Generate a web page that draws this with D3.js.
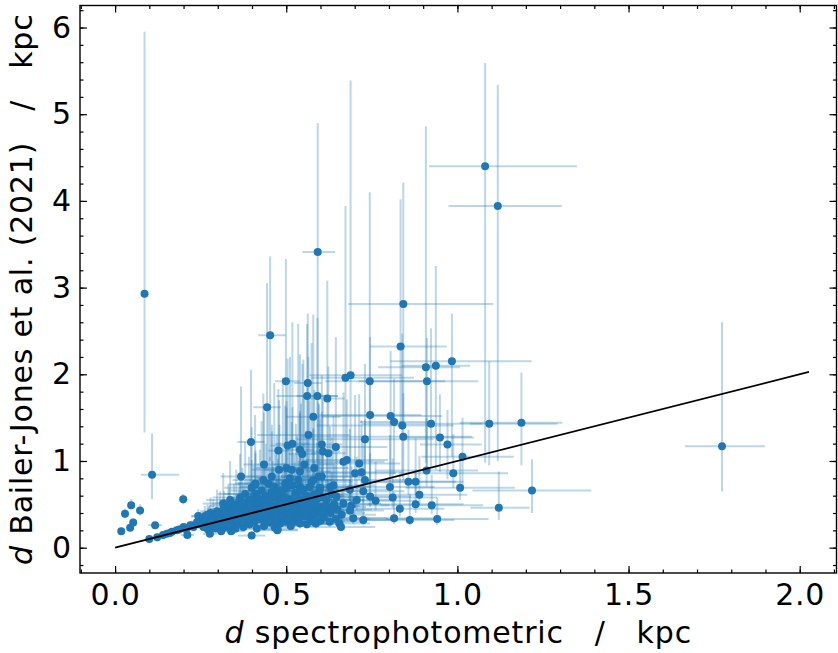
<!DOCTYPE html>
<html>
<head>
<meta charset="utf-8">
<script src="https://cdn.jsdelivr.net/npm/d3@7"></script>
<style>
  body { margin: 0; background: white; }
  text { font-family: "DejaVu Sans", sans-serif; }
</style>
</head>
<body>
<svg id="scatter"></svg>
<script>
// [d spectrophotometric, d Bailer-Jones, err spec, err BJ low, err BJ high]  (kpc)
const nearStars = [
    [0.018, 0.19, 0.01, 0.03, 0.04], [0.029, 0.39, 0.01, 0.05, 0.06], [0.044, 0.23, 0.01, 0.03, 0.04],
    [0.047, 0.49, 0.01, 0.05, 0.07], [0.053, 0.29, 0.01, 0.04, 0.05], [0.073, 0.43, 0.01, 0.06, 0.07],
    [0.100, 0.10, 0.01, 0.02, 0.02], [0.117, 0.26, 0.02, 0.03, 0.04], [0.123, 0.12, 0.01, 0.02, 0.02],
    [0.140, 0.145, 0.01, 0.02, 0.02], [0.151, 0.16, 0.01, 0.02, 0.02], [0.160, 0.17, 0.01, 0.02, 0.03],
    [0.166, 0.185, 0.01, 0.02, 0.03], [0.180, 0.20, 0.01, 0.02, 0.03], [0.187, 0.21, 0.02, 0.03, 0.03],
    [0.200, 0.24, 0.02, 0.03, 0.04], [0.206, 0.215, 0.02, 0.03, 0.03], [0.209, 0.22, 0.02, 0.03, 0.04],
    [0.211, 0.146, 0.02, 0.02, 0.03], [0.220, 0.26, 0.02, 0.03, 0.05], [0.229, 0.24, 0.02, 0.03, 0.05],
    [0.239, 0.28, 0.02, 0.04, 0.06], [0.240, 0.295, 0.02, 0.04, 0.06], [0.243, 0.365, 0.02, 0.05, 0.08],
    [0.245, 0.27, 0.02, 0.04, 0.06]
];

const coreStars = [
    [0.252, 0.30, 0.03, 0.05, 0.08], [0.258, 0.24, 0.02, 0.04, 0.06], [0.258, 0.32, 0.03, 0.05, 0.10],
    [0.262, 0.36, 0.04, 0.06, 0.12], [0.263, 0.32, 0.03, 0.05, 0.08], [0.268, 0.28, 0.03, 0.05, 0.08],
    [0.271, 0.21, 0.02, 0.04, 0.05], [0.275, 0.33, 0.04, 0.06, 0.15], [0.277, 0.16, 0.02, 0.03, 0.04],
    [0.279, 0.40, 0.04, 0.08, 0.18], [0.283, 0.26, 0.03, 0.05, 0.08], [0.287, 0.36, 0.05, 0.07, 0.20],
    [0.287, 0.24, 0.03, 0.04, 0.06], [0.291, 0.30, 0.04, 0.06, 0.12], [0.294, 0.22, 0.03, 0.04, 0.06],
    [0.298, 0.42, 0.05, 0.08, 0.25], [0.300, 0.34, 0.04, 0.06, 0.12], [0.303, 0.27, 0.04, 0.05, 0.10],
    [0.307, 0.40, 0.05, 0.08, 0.25], [0.310, 0.19, 0.03, 0.04, 0.06], [0.312, 0.33, 0.05, 0.06, 0.15],
    [0.316, 0.51, 0.06, 0.10, 0.35], [0.318, 0.45, 0.05, 0.09, 0.20], [0.322, 0.24, 0.04, 0.05, 0.08],
    [0.325, 0.37, 0.06, 0.07, 0.15], [0.328, 0.30, 0.05, 0.06, 0.10], [0.331, 0.42, 0.06, 0.08, 0.30],
    [0.334, 0.48, 0.06, 0.09, 0.20], [0.336, 0.55, 0.07, 0.10, 0.45], [0.339, 0.19, 0.04, 0.04, 0.06],
    [0.341, 0.20, 0.04, 0.04, 0.08], [0.341, 0.26, 0.05, 0.05, 0.10], [0.344, 0.35, 0.06, 0.07, 0.20],
    [0.347, 0.44, 0.07, 0.09, 0.30], [0.349, 0.30, 0.05, 0.06, 0.12], [0.352, 0.22, 0.05, 0.05, 0.08],
    [0.354, 0.50, 0.07, 0.10, 0.40], [0.357, 0.39, 0.06, 0.08, 0.20], [0.360, 0.30, 0.06, 0.06, 0.12],
    [0.363, 0.45, 0.07, 0.09, 0.30], [0.365, 0.58, 0.08, 0.12, 0.50], [0.365, 0.28, 0.05, 0.06, 0.10],
    [0.368, 0.82, 0.06, 0.20, 1.04], [0.369, 0.35, 0.06, 0.07, 0.18], [0.372, 0.52, 0.08, 0.10, 0.40],
    [0.375, 0.24, 0.05, 0.05, 0.08], [0.377, 0.42, 0.07, 0.08, 0.25], [0.380, 0.62, 0.08, 0.12, 0.60],
    [0.383, 0.32, 0.06, 0.06, 0.15], [0.386, 0.47, 0.08, 0.09, 0.35], [0.388, 0.38, 0.07, 0.08, 0.20],
    [0.391, 0.55, 0.08, 0.11, 0.50], [0.393, 0.27, 0.06, 0.05, 0.10], [0.396, 0.44, 0.07, 0.09, 0.30],
    [0.399, 0.14, 0.04, 0.03, 0.05], [0.399, 0.69, 0.08, 0.14, 0.70], [0.399, 0.56, 0.07, 0.11, 0.45],
    [0.402, 0.35, 0.07, 0.07, 0.20], [0.405, 0.50, 0.08, 0.10, 0.45], [0.407, 0.30, 0.06, 0.06, 0.15],
    [0.409, 0.73, 0.08, 0.15, 0.80], [0.410, 0.62, 0.09, 0.12, 0.50], [0.410, 0.74, 0.06, 0.15, 0.35],
    [0.412, 0.41, 0.07, 0.08, 0.30], [0.414, 0.22, 0.05, 0.05, 0.08], [0.414, 0.40, 0.06, 0.08, 0.20],
    [0.417, 0.57, 0.08, 0.11, 0.40], [0.420, 0.46, 0.08, 0.09, 0.35], [0.423, 0.53, 0.09, 0.10, 0.60],
    [0.425, 0.33, 0.07, 0.07, 0.18], [0.428, 0.66, 0.09, 0.13, 0.80], [0.430, 0.39, 0.07, 0.08, 0.25],
    [0.433, 0.78, 0.09, 0.16, 1.00], [0.435, 0.96, 0.06, 0.25, 0.60], [0.435, 0.25, 0.06, 0.05, 0.10],
    [0.437, 0.50, 0.08, 0.10, 0.45], [0.440, 0.60, 0.09, 0.12, 0.60], [0.443, 0.47, 0.08, 0.09, 0.35],
    [0.446, 0.35, 0.07, 0.07, 0.20], [0.448, 0.74, 0.09, 0.15, 0.90], [0.450, 0.42, 0.08, 0.08, 0.30],
    [0.452, 0.55, 0.09, 0.11, 0.50], [0.455, 0.29, 0.07, 0.06, 0.15], [0.458, 0.64, 0.10, 0.13, 0.70],
    [0.458, 0.82, 0.08, 0.18, 0.60], [0.460, 0.37, 0.08, 0.07, 0.25], [0.462, 0.48, 0.09, 0.10, 0.45],
    [0.465, 0.70, 0.10, 0.14, 1.20], [0.467, 0.23, 0.06, 0.05, 0.10], [0.470, 0.58, 0.09, 0.12, 0.55],
    [0.472, 0.44, 0.08, 0.09, 0.35], [0.472, 0.65, 0.09, 0.13, 0.65], [0.474, 0.20, 0.06, 0.04, 0.08],
    [0.475, 0.21, 0.06, 0.04, 0.08], [0.476, 0.52, 0.09, 0.10, 0.50], [0.478, 0.33, 0.08, 0.07, 0.20],
    [0.479, 0.90, 0.08, 0.20, 0.80], [0.480, 0.62, 0.10, 0.12, 0.80], [0.482, 0.28, 0.07, 0.06, 0.15],
    [0.485, 0.41, 0.09, 0.08, 0.35], [0.487, 0.55, 0.10, 0.11, 0.60], [0.490, 0.66, 0.10, 0.13, 1.30],
    [0.492, 0.36, 0.08, 0.07, 0.25], [0.495, 0.48, 0.09, 0.10, 0.45], [0.497, 0.74, 0.10, 0.15, 0.90],
    [0.499, 0.30, 0.08, 0.06, 0.18], [0.501, 0.92, 0.09, 0.20, 0.70], [0.501, 0.69, 0.10, 0.14, 1.00],
    [0.503, 0.42, 0.09, 0.08, 0.35], [0.506, 0.33, 0.08, 0.07, 0.20], [0.508, 0.56, 0.10, 0.11, 0.65],
    [0.511, 0.80, 0.10, 0.16, 1.40], [0.513, 0.25, 0.07, 0.05, 0.10], [0.515, 0.47, 0.09, 0.09, 0.45],
    [0.516, 0.90, 0.08, 0.20, 0.55], [0.518, 0.72, 0.11, 0.14, 0.90], [0.520, 0.38, 0.09, 0.08, 0.30],
    [0.523, 0.52, 0.10, 0.10, 0.55], [0.525, 0.30, 0.08, 0.06, 0.18], [0.528, 0.63, 0.11, 0.13, 0.80],
    [0.531, 0.59, 0.10, 0.12, 0.70], [0.531, 0.34, 0.08, 0.07, 0.20], [0.534, 0.44, 0.09, 0.09, 0.40],
    [0.535, 0.78, 0.10, 0.16, 1.80], [0.537, 0.50, 0.10, 0.10, 0.50], [0.540, 0.28, 0.08, 0.06, 0.15],
    [0.540, 0.88, 0.09, 0.18, 0.70], [0.540, 0.70, 0.10, 0.14, 0.85], [0.543, 0.66, 0.11, 0.13, 1.00],
    [0.546, 0.40, 0.09, 0.08, 0.35], [0.548, 0.55, 0.10, 0.11, 0.60], [0.550, 0.67, 0.11, 0.13, 1.50],
    [0.553, 0.96, 0.09, 0.20, 0.80], [0.553, 0.36, 0.09, 0.07, 0.25], [0.555, 0.47, 0.10, 0.09, 0.40],
    [0.558, 0.60, 0.11, 0.12, 0.75], [0.560, 0.27, 0.08, 0.05, 0.12], [0.563, 0.52, 0.10, 0.10, 0.50],
    [0.566, 0.41, 0.09, 0.08, 0.35], [0.568, 0.70, 0.12, 0.14, 1.00], [0.571, 0.33, 0.09, 0.07, 0.20],
    [0.574, 0.76, 0.12, 0.15, 1.60], [0.576, 0.45, 0.10, 0.09, 0.40], [0.579, 0.61, 0.11, 0.12, 0.75],
    [0.579, 0.78, 0.11, 0.15, 0.60], [0.582, 0.92, 0.10, 0.18, 0.90], [0.584, 0.38, 0.09, 0.08, 0.30],
    [0.584, 0.50, 0.10, 0.10, 0.50], [0.587, 0.28, 0.08, 0.06, 0.15], [0.590, 0.56, 0.11, 0.11, 0.65],
    [0.593, 0.43, 0.10, 0.09, 0.40], [0.594, 0.82, 0.11, 0.16, 0.85], [0.596, 0.65, 0.12, 0.13, 1.00],
    [0.599, 0.69, 0.12, 0.14, 0.80], [0.600, 0.31, 0.09, 0.06, 0.20], [0.604, 0.47, 0.10, 0.09, 0.45],
    [0.604, 0.82, 0.12, 0.16, 0.75], [0.608, 0.58, 0.11, 0.12, 0.60], [0.610, 0.35, 0.09, 0.07, 0.25],
    [0.618, 0.55, 0.11, 0.11, 0.50], [0.622, 0.42, 0.10, 0.08, 0.35], [0.627, 0.30, 0.09, 0.06, 0.18],
    [0.633, 0.62, 0.12, 0.12, 0.65], [0.640, 0.50, 0.11, 0.10, 0.45], [0.645, 0.33, 0.10, 0.07, 0.22],
    [0.255, 0.27, 0.03, 0.04, 0.06], [0.265, 0.30, 0.03, 0.05, 0.08], [0.270, 0.38, 0.04, 0.06, 0.12],
    [0.285, 0.31, 0.04, 0.05, 0.10], [0.295, 0.35, 0.04, 0.06, 0.12], [0.305, 0.31, 0.04, 0.05, 0.10],
    [0.315, 0.28, 0.04, 0.05, 0.08], [0.320, 0.41, 0.05, 0.07, 0.15], [0.330, 0.35, 0.05, 0.06, 0.12],
    [0.335, 0.27, 0.05, 0.05, 0.08], [0.345, 0.40, 0.06, 0.07, 0.18], [0.355, 0.33, 0.06, 0.06, 0.12],
    [0.360, 0.41, 0.06, 0.07, 0.20], [0.370, 0.30, 0.06, 0.06, 0.10], [0.375, 0.47, 0.07, 0.08, 0.25],
    [0.385, 0.41, 0.07, 0.07, 0.20], [0.390, 0.33, 0.06, 0.06, 0.12], [0.395, 0.50, 0.07, 0.09, 0.30],
    [0.405, 0.40, 0.07, 0.07, 0.20], [0.415, 0.48, 0.08, 0.08, 0.25], [0.420, 0.35, 0.07, 0.06, 0.15],
    [0.425, 0.43, 0.08, 0.08, 0.22], [0.430, 0.55, 0.08, 0.10, 0.35], [0.440, 0.40, 0.08, 0.07, 0.20],
    [0.445, 0.30, 0.07, 0.06, 0.12], [0.455, 0.47, 0.08, 0.08, 0.25], [0.460, 0.60, 0.09, 0.10, 0.40],
    [0.465, 0.40, 0.08, 0.07, 0.20], [0.470, 0.32, 0.08, 0.06, 0.15], [0.480, 0.50, 0.09, 0.09, 0.30],
    [0.490, 0.44, 0.09, 0.08, 0.25], [0.495, 0.58, 0.09, 0.10, 0.40], [0.505, 0.50, 0.09, 0.09, 0.30],
    [0.510, 0.38, 0.09, 0.07, 0.20], [0.520, 0.45, 0.09, 0.08, 0.25], [0.525, 0.58, 0.10, 0.10, 0.40],
    [0.535, 0.36, 0.09, 0.07, 0.18], [0.545, 0.48, 0.10, 0.08, 0.30], [0.560, 0.40, 0.10, 0.07, 0.22],
    [0.570, 0.55, 0.10, 0.10, 0.35], [0.580, 0.30, 0.09, 0.06, 0.15], [0.590, 0.47, 0.10, 0.08, 0.30],
    [0.600, 0.40, 0.10, 0.07, 0.22], [0.615, 0.48, 0.10, 0.08, 0.30], [0.630, 0.40, 0.10, 0.07, 0.22],
    [0.650, 0.44, 0.10, 0.08, 0.25], [0.655, 0.28, 0.09, 0.05, 0.12]
];

const spreadStars = [
    [0.628, 0.70, 0.12, 0.14, 0.70], [0.638, 0.72, 0.12, 0.14, 0.80], [0.647, 0.59, 0.11, 0.12, 0.50],
    [0.633, 0.47, 0.10, 0.09, 0.40], [0.660, 0.24, 0.10, 0.05, 0.15], [0.662, 0.38, 0.10, 0.08, 0.30],
    [0.667, 0.51, 0.11, 0.10, 0.50], [0.667, 0.99, 0.12, 0.20, 0.80], [0.677, 1.01, 0.12, 0.20, 0.70],
    [0.686, 0.43, 0.10, 0.09, 0.35], [0.686, 0.67, 0.12, 0.13, 0.70], [0.691, 0.49, 0.11, 0.10, 0.45],
    [0.696, 0.34, 0.10, 0.07, 0.25], [0.701, 0.86, 0.12, 0.17, 0.90], [0.706, 0.55, 0.11, 0.11, 0.50],
    [0.713, 0.97, 0.12, 0.19, 0.80], [0.720, 0.87, 0.12, 0.17, 0.60], [0.725, 0.32, 0.10, 0.06, 0.25],
    [0.725, 0.65, 0.12, 0.13, 0.60], [0.730, 0.78, 0.13, 0.16, 0.70], [0.745, 0.59, 0.12, 0.12, 0.50],
    [0.761, 0.54, 0.12, 0.11, 0.45], [0.803, 0.70, 0.13, 0.14, 0.60], [0.811, 0.58, 0.13, 0.12, 0.45],
    [0.815, 0.34, 0.12, 0.07, 0.30], [0.832, 0.45, 0.13, 0.09, 0.40], [0.857, 0.76, 0.14, 0.15, 0.60],
    [0.861, 0.32, 0.13, 0.06, 0.30], [0.878, 0.76, 0.14, 0.15, 0.50], [0.878, 0.50, 0.14, 0.10, 0.40],
    [0.889, 0.61, 0.14, 0.12, 0.45], [0.910, 0.89, 0.15, 0.18, 0.60], [0.925, 0.49, 0.15, 0.10, 0.35],
    [0.941, 0.33, 0.15, 0.07, 0.25], [0.988, 0.86, 0.16, 0.17, 0.45], [1.008, 0.69, 0.16, 0.14, 0.35]
];

// [d spec, d BJ, err spec low, err spec high, err BJ low, err BJ high]
const outlierStars = [
    [0.086, 2.93, 0.004, 0.004, 1.60, 3.02], [0.108, 0.84, 0.032, 0.079, 0.28, 0.48],
    [0.199, 0.56, 0.010, 0.010, 0.06, 0.06], [0.592, 3.41, 0.045, 0.051, 2.50, 1.49],
    [0.453, 2.45, 0.035, 0.045, 1.45, 0.91], [0.842, 2.81, 0.161, 0.263, 1.40, 1.40],
    [0.834, 2.32, 0.089, 0.135, 0.90, 1.70], [1.081, 4.40, 0.164, 0.268, 3.42, 1.19],
    [1.118, 3.94, 0.144, 0.187, 2.94, 1.40], [1.773, 1.17, 0.108, 0.125, 0.52, 1.43],
    [0.444, 1.62, 0.040, 0.040, 0.80, 1.43], [0.499, 1.92, 0.032, 0.041, 1.10, 1.41],
    [0.563, 1.90, 0.040, 0.040, 1.10, 0.80], [0.561, 1.75, 0.090, 0.090, 1.00, 0.83],
    [0.591, 1.75, 0.060, 0.060, 1.10, 0.90], [0.620, 1.72, 0.050, 0.050, 1.00, 1.36],
    [0.673, 1.96, 0.100, 0.200, 1.30, 1.98], [0.688, 1.99, 0.120, 0.150, 1.40, 3.40],
    [0.744, 1.92, 0.130, 0.220, 1.30, 2.18], [0.908, 2.08, 0.140, 0.100, 1.10, 2.78],
    [0.937, 2.10, 0.100, 0.100, 1.20, 1.15], [0.911, 1.92, 0.200, 0.150, 1.00, 0.50],
    [0.984, 2.15, 0.180, 0.233, 1.10, 0.55], [0.579, 1.51, 0.080, 0.080, 0.80, 1.18],
    [0.745, 1.53, 0.150, 0.150, 0.80, 0.90], [0.805, 1.52, 0.200, 0.150, 0.70, 0.75],
    [0.815, 1.45, 0.100, 0.100, 0.60, 0.50], [0.839, 1.41, 0.250, 0.150, 0.60, 1.06],
    [0.923, 1.43, 0.200, 0.150, 0.50, 1.10], [1.093, 1.43, 0.056, 0.200, 0.48, 0.72],
    [1.187, 1.44, 0.180, 0.120, 0.49, 0.58], [0.949, 1.27, 0.100, 0.100, 0.40, 0.50],
    [0.971, 1.19, 0.080, 0.100, 0.40, 0.40], [1.015, 1.05, 0.120, 0.150, 0.35, 0.45],
    [0.842, 1.28, 0.300, 0.200, 0.50, 0.50], [0.730, 1.25, 0.200, 0.200, 0.50, 0.87],
    [0.565, 1.30, 0.150, 0.120, 0.60, 0.90], [0.645, 1.16, 0.150, 0.150, 0.50, 1.27],
    [0.397, 1.22, 0.040, 0.040, 0.50, 0.83], [0.504, 1.18, 0.050, 0.050, 0.60, 1.00],
    [0.518, 1.20, 0.050, 0.050, 0.60, 1.40], [0.477, 1.12, 0.030, 0.030, 0.50, 0.71],
    [0.604, 1.19, 0.060, 0.060, 0.50, 0.80], [0.607, 1.11, 0.050, 0.050, 0.50, 0.60],
    [0.623, 1.09, 0.050, 0.050, 0.50, 1.00], [0.540, 1.13, 0.040, 0.040, 0.50, 1.10],
    [0.547, 1.08, 0.040, 0.040, 0.50, 1.04], [1.218, 0.66, 0.174, 0.173, 0.26, 0.36],
    [1.121, 0.46, 0.083, 0.090, 0.14, 0.42]
];

const oneToOne = [0, 2.027];
const xTicks = [0, 0.5, 1.0, 1.5, 2.0];
const yTicks = [0, 1, 2, 3, 4, 5, 6];
const xMinorTicks = d3.range(-1, 22).map(i => i / 10);
const yMinorTicks = d3.range(-1, 32).map(i => i / 5);

const dimensions = {
    width: 838,
    height: 653,
    margin: { top: 5.5, right: 1.5, bottom: 80, left: 80 }
};
const innerW = dimensions.width - dimensions.margin.left - dimensions.margin.right;
const innerH = dimensions.height - dimensions.margin.top - dimensions.margin.bottom;
const fontSize = 30;
const letterGap = 0.8;
const blue = "#1f77b4";

const stars = nearStars.concat(coreStars, spreadStars)
    .map(d => ({ x: d[0], y: d[1], exLo: d[2], exHi: d[2], eyLo: d[3], eyHi: d[4] }))
    .concat(outlierStars.map(d => ({ x: d[0], y: d[1], exLo: d[2], exHi: d[3], eyLo: d[4], eyHi: d[5] })));

const svg = d3.select("#scatter")
    .attr("width", dimensions.width)
    .attr("height", dimensions.height)
    .style("background-color", "white");

const g = svg.append("g")
    .attr("transform", `translate(${dimensions.margin.left},${dimensions.margin.top})`);

const xScale = d3.scaleLinear().domain([-0.1025, 2.1075]).range([0, innerW]);
const yScale = d3.scaleLinear().domain([-0.292, 6.254]).range([innerH, 0]);

g.append("clipPath").attr("id", "plotClip")
    .append("rect").attr("width", innerW).attr("height", innerH);

const plot = g.append("g").attr("clip-path", "url(#plotClip)");

// error bars
const bars = plot.append("g")
    .attr("stroke", blue)
    .attr("stroke-opacity", 0.3)
    .attr("stroke-width", 2);

bars.selectAll(".xerr")
    .data(stars)
    .enter().append("line")
    .attr("x1", d => xScale(d.x - d.exLo))
    .attr("x2", d => xScale(d.x + d.exHi))
    .attr("y1", d => yScale(d.y))
    .attr("y2", d => yScale(d.y));

bars.selectAll(".yerr")
    .data(stars)
    .enter().append("line")
    .attr("x1", d => xScale(d.x))
    .attr("x2", d => xScale(d.x))
    .attr("y1", d => yScale(d.y - d.eyLo))
    .attr("y2", d => yScale(d.y + d.eyHi));

plot.append("g")
    .selectAll("circle")
    .data(stars)
    .enter().append("circle")
    .attr("cx", d => xScale(d.x))
    .attr("cy", d => yScale(d.y))
    .attr("r", 4)
    .attr("fill", blue);

// one-to-one line
plot.append("path")
    .datum(oneToOne)
    .attr("fill", "none")
    .attr("stroke", "black")
    .attr("stroke-width", 1.8)
    .attr("d", d3.line().x(d => xScale(d)).y(d => yScale(d)));

// axes, ticks pointing inwards on all sides
function styleAxis(sel) {
    sel.select(".domain").remove();
    sel.selectAll(".tick line").attr("stroke", "black").attr("stroke-width", 1.2);
    sel.selectAll("text").attr("font-size", fontSize).attr("fill", "black")
        .attr("font-family", "DejaVu Sans").attr("letter-spacing", letterGap);
}

g.append("g").attr("transform", `translate(0,${innerH})`)
    .call(d3.axisBottom(xScale).tickValues(xTicks).tickFormat(d3.format(".1f"))
        .tickSizeInner(-7).tickSizeOuter(0).tickPadding(10.7))
    .call(styleAxis);
g.append("g").attr("transform", `translate(0,${innerH})`)
    .call(d3.axisBottom(xScale).tickValues(xMinorTicks).tickFormat("").tickSizeInner(-3.5).tickSizeOuter(0))
    .call(styleAxis);
g.append("g")
    .call(d3.axisTop(xScale).tickValues(xTicks).tickFormat("").tickSizeInner(-7).tickSizeOuter(0))
    .call(styleAxis);
g.append("g")
    .call(d3.axisTop(xScale).tickValues(xMinorTicks).tickFormat("").tickSizeInner(-3.5).tickSizeOuter(0))
    .call(styleAxis);

g.append("g")
    .call(d3.axisLeft(yScale).tickValues(yTicks).tickFormat(d3.format("d"))
        .tickSizeInner(-7).tickSizeOuter(0).tickPadding(8))
    .call(styleAxis);
g.append("g")
    .call(d3.axisLeft(yScale).tickValues(yMinorTicks).tickFormat("").tickSizeInner(-3.5).tickSizeOuter(0))
    .call(styleAxis);
g.append("g").attr("transform", `translate(${innerW},0)`)
    .call(d3.axisRight(yScale).tickValues(yTicks).tickFormat("").tickSizeInner(-7).tickSizeOuter(0))
    .call(styleAxis);
g.append("g").attr("transform", `translate(${innerW},0)`)
    .call(d3.axisRight(yScale).tickValues(yMinorTicks).tickFormat("").tickSizeInner(-3.5).tickSizeOuter(0))
    .call(styleAxis);

// frame
g.append("rect")
    .attr("width", innerW)
    .attr("height", innerH)
    .attr("fill", "none")
    .attr("stroke", "black")
    .attr("stroke-width", 1.4);

// axis labels
const xLabel = svg.append("text")
    .attr("x", dimensions.margin.left + innerW / 2)
    .attr("y", 643)
    .attr("text-anchor", "middle")
    .attr("font-size", fontSize)
    .attr("letter-spacing", letterGap)
    .style("white-space", "pre");
xLabel.append("tspan").attr("font-style", "italic").text("d");
xLabel.append("tspan").text(" spectrophotometric   /   kpc");

const yLabel = svg.append("text")
    .attr("transform", `translate(32,${dimensions.margin.top + innerH / 2}) rotate(-90)`)
    .attr("text-anchor", "middle")
    .attr("font-size", fontSize)
    .attr("letter-spacing", letterGap)
    .style("white-space", "pre");
yLabel.append("tspan").attr("font-style", "italic").text("d");
yLabel.append("tspan").text(" Bailer-Jones et al. (2021)   /   kpc");
</script>
</body>
</html>
